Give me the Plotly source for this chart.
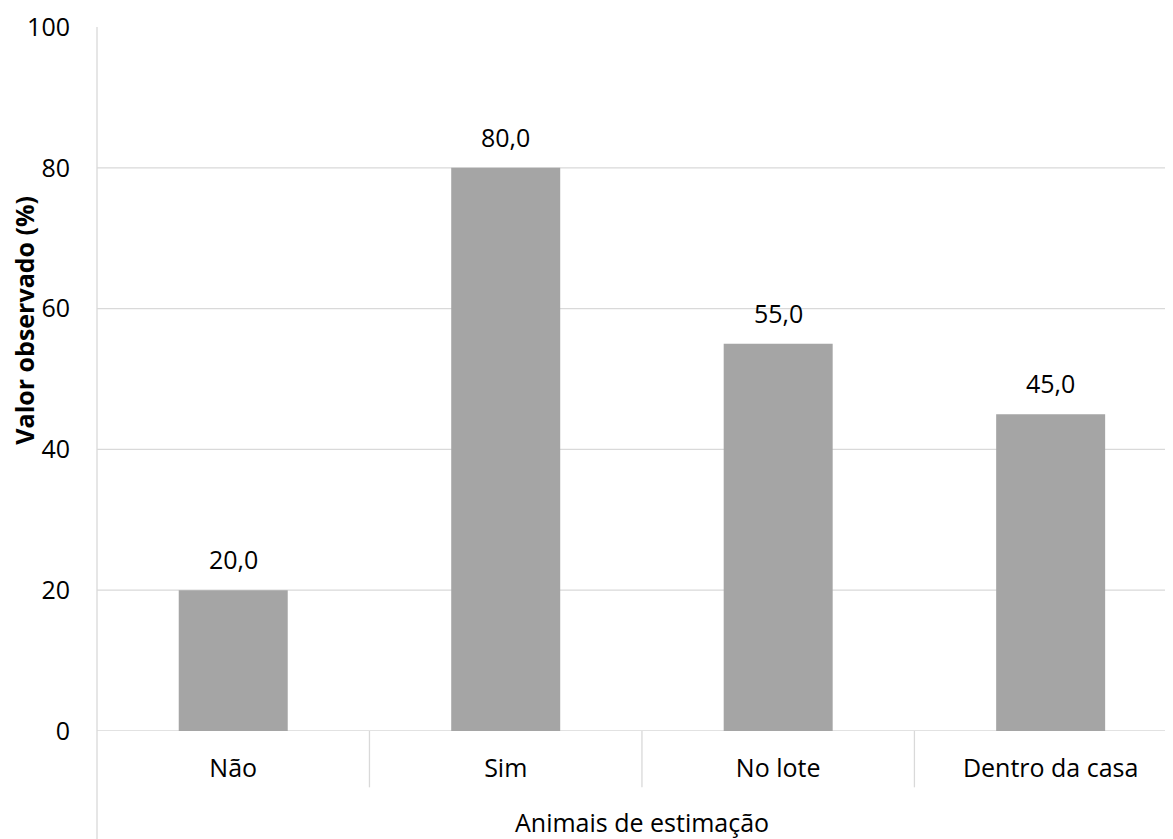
import plotly.graph_objects as go

categories = ["Não", "Sim", "No lote", "Dentro da casa"]
values = [20.0, 80.0, 55.0, 45.0]
y_ticks = [0, 20, 40, 60, 80, 100]
x_title = "Animais de estimação"
y_title = "Valor observado (%)"

FONT = "Open Sans"
FS = 25
GRID = "#d9d9d9"
BAR = "#a5a5a5"

labels = [f"{v:.1f}".replace(".", ",") for v in values]
idx = list(range(len(categories)))

fig = go.Figure()
fig.add_trace(go.Bar(
    x=idx, y=values, width=0.4, marker=dict(color=BAR, line=dict(width=0)),
    hoverinfo="skip",
))

shapes = []
# horizontal gridlines (none at the top value)
for t in y_ticks[:-1]:
    shapes.append(dict(type="line", xref="paper", yref="y", x0=0, x1=1, y0=t, y1=t,
                       line=dict(color=GRID, width=1.3), layer="below"))
# left axis line extending below plot
shapes.append(dict(type="line", xref="paper", yref="paper", x0=0, x1=0, y0=-0.2, y1=1,
                   line=dict(color=GRID, width=1.3), layer="below"))
# category separators
for i in idx[:-1]:
    shapes.append(dict(type="line", xref="x", yref="paper", x0=i + 0.5, x1=i + 0.5,
                       y0=-0.08, y1=0, line=dict(color=GRID, width=1.3), layer="below"))

annotations = []
for i, v, lab in zip(idx, values, labels):
    annotations.append(dict(x=i, y=v, xref="x", yref="y", text=lab, showarrow=False,
                            yanchor="bottom", yshift=12,
                            font=dict(family=FONT, size=FS, color="#000")))
annotations.append(dict(x=(len(categories) - 1) / 2, y=-0.129, xref="x", yref="paper",
                        text=x_title, showarrow=False, yanchor="middle",
                        font=dict(family=FONT, size=FS, color="#000")))
annotations.append(dict(x=-0.068, y=0.584, xref="paper", yref="paper", text=f"<b>{y_title}</b>",
                        textangle=-90, showarrow=False, xanchor="center", yanchor="middle",
                        font=dict(family=FONT, size=FS, color="#000")))

fig.update_layout(
    width=1165, height=831,
    margin=dict(l=89, r=0, t=19, b=108),
    paper_bgcolor="white", plot_bgcolor="white",
    showlegend=False,
    font=dict(family=FONT, size=FS, color="#000"),
    xaxis=dict(range=[-0.5, 3.449], tickvals=idx, ticktext=categories,
               showgrid=False, zeroline=False, showline=False, ticks="",
               ticklabelstandoff=20, tickfont=dict(size=FS)),
    yaxis=dict(range=[0, 100], tickvals=y_ticks, showgrid=False, zeroline=False,
               showline=False, ticks="", ticklabelstandoff=26),
    shapes=shapes,
    annotations=annotations,
)

fig.write_html("out.html")
